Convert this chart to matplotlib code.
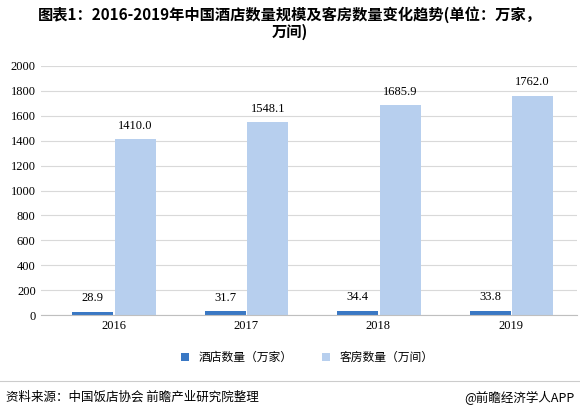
import matplotlib.pyplot as plt
import numpy as np

plt.rcParams['font.family'] = ['Noto Sans CJK SC', 'DejaVu Sans']

years = ['2016', '2017', '2018', '2019']
hotels = [28.9, 31.7, 34.4, 33.8]
rooms = [1410.0, 1548.1, 1685.9, 1762.0]

fig = plt.figure(figsize=(5.8, 4.12), dpi=100)
ax = fig.add_axes([0.07, 0.235, 0.925, 0.605])

x = np.arange(len(years))
w = 0.31
b1 = ax.bar(x - w / 2, hotels, w, color='#3a78c4', label='酒店数量（万家）')
b2 = ax.bar(x + w / 2 + 0.01, rooms, w, color='#b7cfee', label='客房数量（万间）')
for bars in (b1, b2):
    for r in bars:
        ax.text(r.get_x() + r.get_width() / 2, r.get_height() + 60, '%.1f' % r.get_height(),
                ha='center', va='bottom', fontsize=9, family='Liberation Serif')

ax.set_ylim(0, 2000)
ax.set_yticks(range(0, 2001, 200))
ax.set_xlim(-0.55, 3.5)
ax.set_xticks(x)
ax.set_xticklabels(years, family='Liberation Serif', fontsize=9)
ax.tick_params(axis='y', labelsize=9, length=0)
ax.tick_params(axis='x', length=0)
for t in ax.get_yticklabels():
    t.set_family('Liberation Serif')
ax.grid(axis='y', color='#d9d9d9', linewidth=0.8)
ax.set_axisbelow(True)
for s in ['top', 'right', 'left']:
    ax.spines[s].set_visible(False)
ax.spines['bottom'].set_color('#bfbfbf')

fig.legend(loc='lower center', bbox_to_anchor=(0.53, 0.09), ncol=2, frameon=False,
           fontsize=8.5, handlelength=0.7, handleheight=0.7, columnspacing=2.5)

fig.text(0.5, 0.985, '图表1：2016-2019年中国酒店数量规模及客房数量变化趋势(单位：万家，\n万间)',
         ha='center', va='top', fontsize=11, fontweight='bold', linespacing=1.05)
fig.text(0.01, 0.035, '资料来源：中国饭店协会 前瞻产业研究院整理', fontsize=9, va='center')
fig.text(0.99, 0.035, '@前瞻经济学人APP', fontsize=9, va='center', ha='right')
fig.add_artist(plt.Line2D([0, 1], [0.075, 0.075], color='#cccccc', linewidth=0.8))

fig.savefig('out.png', dpi=100)
